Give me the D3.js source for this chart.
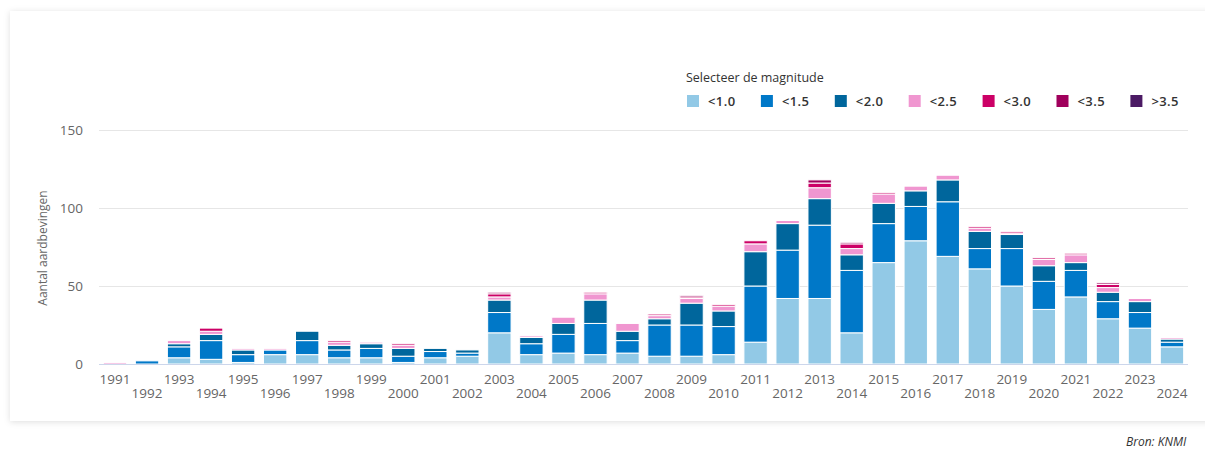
<!DOCTYPE html>
<html>
<head>
<meta charset="utf-8">
<script src="https://cdn.jsdelivr.net/npm/d3@7"></script>
<style>
  body { margin: 0; background: #fff; font-family: "Open Sans", "Noto Sans", sans-serif; }
  svg { display: block; }
</style>
</head>
<body>
<svg id="chart" width="1205" height="450"></svg>
<script>
// years on the x axis
var years = d3.range(1991, 2025).map(String);

// magnitude classes (stack order, bottom to top)
var classes = ['<1.0', '<1.5', '<2.0', '<2.5', '<3.0', '<3.5', '>3.5'];
var classColors = ['#92c9e6', '#0078c8', '#00669c', '#f096d0', '#cc0066', '#a0005c', '#4b1a64'];

// counts per class, one value per year 1991..2024
var m10 = [0, 0, 4, 3, 1, 6, 6, 4, 4, 1, 4, 5, 20, 6, 7, 6, 7, 5, 5, 6, 14, 42, 42, 20, 65, 79, 69, 61, 50, 35, 43, 29, 23, 11];
var m15 = [0, 2, 7, 12, 5, 3, 9, 5, 6, 4, 4, 2, 13, 7, 12, 20, 8, 20, 20, 18, 36, 31, 47, 40, 25, 22, 35, 13, 24, 18, 17, 11, 10, 3];
var m20 = [0, 0, 2, 4, 3, 0, 6, 3, 3, 5, 2, 2, 8, 4, 7, 15, 6, 4, 14, 10, 22, 17, 17, 10, 13, 10, 14, 11, 9, 10, 5, 6, 7, 2];
var m25 = [1, 0, 2, 2, 1, 1, 0, 2, 1, 2, 0, 0, 2, 1, 4, 4, 5, 2, 3, 3, 5, 2, 7, 4, 6, 3, 3, 2, 1, 4, 5, 3, 2, 1];
var m30 = [0, 0, 0, 2, 0, 0, 0, 1, 0, 1, 0, 0, 2, 0, 0, 1, 0, 1, 1, 1, 2, 0, 3, 3, 1, 0, 0, 1, 1, 1, 1, 2, 0, 0];
var m35 = [0, 0, 0, 0, 0, 0, 0, 0, 0, 0, 0, 0, 1, 0, 0, 0, 0, 0, 1, 0, 0, 0, 2, 1, 0, 0, 0, 0, 0, 0, 0, 1, 0, 0];
var m40 = [0, 0, 0, 0, 0, 0, 0, 0, 0, 0, 0, 0, 0, 0, 0, 0, 0, 0, 0, 0, 0, 0, 0, 0, 0, 0, 0, 0, 0, 0, 0, 0, 0, 0];

var yTicks = [0, 50, 100, 150];

var series = [m10, m15, m20, m25, m30, m35, m40];
var rows = years.map(function(y, i) {
  var r = { year: y };
  classes.forEach(function(c, k) { r[c] = series[k][i]; });
  return r;
});

var svg = d3.select('#chart');

// card with soft shadow
var defs = svg.append('defs');
var f = defs.append('filter').attr('id', 'shadow')
  .attr('x', '-5%').attr('y', '-5%').attr('width', '110%').attr('height', '110%');
f.append('feDropShadow').attr('dx', 0).attr('dy', 1).attr('stdDeviation', 3)
  .attr('flood-color', '#000').attr('flood-opacity', 0.13);

svg.append('rect')
  .attr('x', 10).attr('y', 11).attr('width', 1215).attr('height', 410)
  .attr('fill', '#fff').attr('filter', 'url(#shadow)');

var plotLeft = 99, plotRight = 1188, plotTop = 130, plotBottom = 364;

var x = d3.scaleBand().domain(years).range([plotLeft, plotRight])
  .paddingInner(0.27).paddingOuter(0.135);
var y = d3.scaleLinear().domain([0, 150]).range([plotBottom, plotTop]);

// gridlines
svg.append('g').selectAll('line')
  .data(yTicks.filter(function(d) { return d > 0; }))
  .join('line')
  .attr('x1', plotLeft).attr('x2', plotRight)
  .attr('y1', function(d) { return y(d) + 0.5; })
  .attr('y2', function(d) { return y(d) + 0.5; })
  .attr('stroke', '#e6e6e6').attr('stroke-width', 1);

// y tick labels
svg.append('g').selectAll('text')
  .data(yTicks)
  .join('text')
  .attr('x', 83).attr('y', function(d) { return y(d) + 5; })
  .attr('text-anchor', 'end')
  .attr('font-size', 13.5).attr('fill', '#666')
  .text(function(d) { return d; });

// y axis title
svg.append('text')
  .attr('transform', 'translate(47,248) rotate(-90)')
  .attr('text-anchor', 'middle')
  .attr('font-size', 12).attr('fill', '#666')
  .text('Aantal aardbevingen');

// stacked bars
var stacked = d3.stack().keys(classes)(rows);

svg.append('g').selectAll('g')
  .data(stacked)
  .join('g')
  .attr('fill', function(d, i) { return classColors[i]; })
  .selectAll('rect')
  .data(function(d) { return d.filter(function(s) { return s[1] > s[0]; }); })
  .join('rect')
  .attr('x', function(d) { return x(d.data.year); })
  .attr('width', x.bandwidth())
  .attr('y', function(d) { return y(d[1]); })
  .attr('height', function(d) { return y(d[0]) - y(d[1]); })
  .attr('stroke', '#fff').attr('stroke-width', 1);

// x axis line
svg.append('line')
  .attr('x1', plotLeft).attr('x2', plotRight)
  .attr('y1', plotBottom + 0.5).attr('y2', plotBottom + 0.5)
  .attr('stroke', '#ccd6eb');

// x labels, staggered on two rows
svg.append('g').selectAll('text')
  .data(years)
  .join('text')
  .attr('x', function(d) { return x(d) + x.bandwidth() / 2; })
  .attr('y', function(d, i) { return i % 2 === 0 ? 384 : 398; })
  .attr('text-anchor', 'middle')
  .attr('font-size', 13.5).attr('fill', '#666')
  .text(function(d) { return d; });

// legend
svg.append('text')
  .attr('x', 686).attr('y', 82)
  .attr('font-size', 12.5).attr('fill', '#333')
  .text('Selecteer de magnitude');

var legend = svg.append('g').selectAll('g')
  .data(classes)
  .join('g')
  .attr('transform', function(d, i) { return 'translate(' + (687 + i * 73.9) + ',95)'; });

legend.append('rect')
  .attr('width', 12).attr('height', 12)
  .attr('fill', function(d, i) { return classColors[i]; });

legend.append('text')
  .attr('x', 21).attr('y', 11)
  .attr('font-size', 13).attr('font-weight', 600).attr('letter-spacing', 0.4)
  .attr('fill', '#333')
  .text(function(d) { return d; });

// source
svg.append('text')
  .attr('x', 1126).attr('y', 446)
  .attr('font-size', 12).attr('font-style', 'italic').attr('fill', '#333')
  .text('Bron: KNMI');
</script>
</body>
</html>
